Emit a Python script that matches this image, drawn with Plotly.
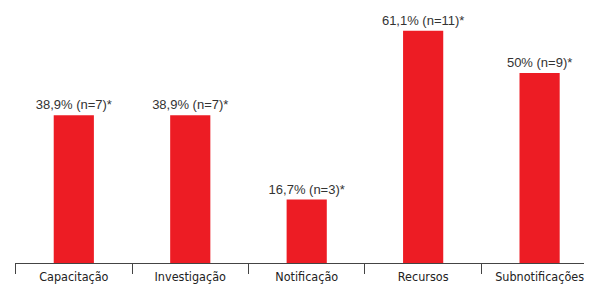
import plotly.graph_objects as go

categories = ["Capacitação", "Investigação", "Notificação", "Recursos", "Subnotificações"]
values = [38.9, 38.9, 16.7, 61.1, 50.0]
counts = [7, 7, 3, 11, 9]
value_labels = ["38,9%", "38,9%", "16,7%", "61,1%", "50%"]

texts = [f"{v} (n={n})*" for v, n in zip(value_labels, counts)]

label_font = dict(family="Liberation Sans, Arial, sans-serif", size=13, color="#333333")

fig = go.Figure(
    go.Bar(
        x=categories,
        y=values,
        text=texts,
        textposition="outside",
        constraintext="none",
        cliponaxis=False,
        textfont=label_font,
        outsidetextfont=label_font,
        marker=dict(color="#ED1C24", line=dict(width=0)),
        width=0.345,
    )
)

fig.update_layout(
    width=592,
    height=292,
    margin=dict(l=7, r=8, t=0, b=37),
    paper_bgcolor="white",
    plot_bgcolor="white",
    showlegend=False,
    xaxis=dict(
        type="category",
        range=[-0.505, 4.45],
        automargin=False,
        tickson="boundaries",
        ticks="outside",
        ticklen=10,
        tickwidth=1,
        tickcolor="#444444",
        showline=True,
        linecolor="#444444",
        linewidth=1,
        showgrid=False,
        ticklabelstandoff=2,
        tickfont=dict(family="DejaVu Sans Condensed, Liberation Sans, sans-serif", size=12.5, color="#222222"),
    ),
    yaxis=dict(
        range=[0, 67.1],
        visible=False,
        showgrid=False,
        zeroline=False,
        automargin=False,
    ),
)

fig.write_html("out.html")
